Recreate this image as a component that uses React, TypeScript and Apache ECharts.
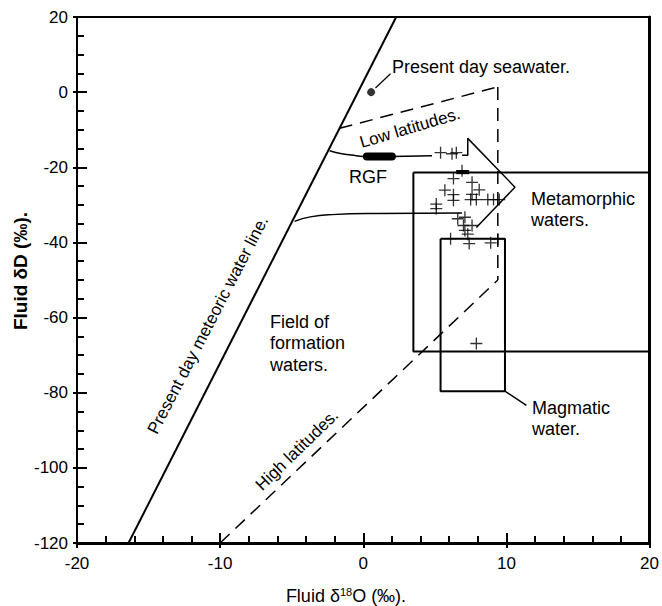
import React, { useEffect, useRef } from 'react';
import * as echarts from 'echarts';

// Axis ranges / ticks
const xRange = [-20, 20];
const yRange = [-120, 20];
const xTickStep = 10;
const yTickStep = 20;

// Reference lines (δ18O, δD)
const meteoricLine = [[-16.4, -120], [2.3, 20]];
const lowLatitudes = [[-1.65, -9.6], [9.4, 1.4]];
const latitudeBound = [[9.4, 1.4], [9.4, -50]];
const highLatitudes = [[-10, -120], [9.4, -50]];
const seawater = [[0.55, 0]];
const seawaterLeader = [[0.85, 1.1], [1.9, 4.9]];
const rgfCurve = [[-2.35, -15.6], [-1.5, -16.4], [-0.5, -16.9], [0.1, -17.1]];
const rgfBar = [[0.25, -17.1], [2.0, -17.1]];
const rgfTail = [[2.0, -17.1], [4.8, -16.9]];
const rgfBar2 = [[6.5, -21.3], [7.4, -21.3]];
const formationCurve = [[-4.8, -34.4], [-3.7, -33.2], [-2.2, -32.6], [1, -32.3], [6.9, -32.2]];
const metamorphicBox = [[3.5, -21.4], [20, -21.4], [20, -69], [3.5, -69], [3.5, -21.4]];
const metamorphicArrow = [[6.9, -16.8], [7.3, -16.8], [7.3, -12.3], [10.6, -25.3], [7.9, -36]];
const magmaticBox = [[5.4, -39], [9.9, -39], [9.9, -79.6], [5.4, -79.6], [5.4, -39]];
const magmaticLeader = [[9.9, -79.6], [11.4, -83.4]];

// Fluid inclusion samples
const sampleD18O = [5.4, 6.2, 6.5, 6.9, 6.3, 7.6, 5.7, 8.1, 6.3, 7.6, 6.3, 7.5, 7.9, 8.7, 9.1, 9.5, 5.1, 5.1, 6.6, 7.1, 7.0, 7.6, 7.1, 7.3, 6.1, 7.4, 8.9, 9.4, 7.9];
const sampleDD = [-16.1, -16.4, -16.1, -20.9, -23.0, -24.0, -26.1, -26.0, -27.3, -27.2, -28.8, -28.6, -28.6, -28.6, -28.6, -28.6, -29.8, -31.0, -33.7, -33.3, -35.5, -35.5, -36.8, -37.8, -39.0, -40.3, -40.1, -39.1, -66.9];

const FONT = '"Liberation Sans", Arial, sans-serif';

function lineSeries(data: number[][], opts: any = {}) {
  return {
    type: 'line',
    data,
    showSymbol: false,
    symbol: 'none',
    silent: true,
    smooth: opts.smooth || false,
    lineStyle: { color: '#000', width: opts.width || 1.5, type: opts.type || 'solid', cap: opts.cap || 'butt' },
    z: opts.z || 3,
  };
}

export default function App() {
  const ref = useRef<HTMLDivElement>(null);
  useEffect(() => {
    if (!ref.current) return;
    const chart = echarts.init(ref.current, null, { renderer: 'svg' });
    const samples = sampleD18O.map((x, i) => [x, sampleDD[i]]);
    const axisLabel = { color: '#000', fontFamily: FONT, fontSize: 17 };
    const tickStyle = { color: '#000', width: 2 };
    chart.setOption({
      animation: false,
      backgroundColor: '#fff',
      grid: { left: 77, right: 9, top: 17, bottom: 63, show: true, borderColor: '#000', borderWidth: 2, backgroundColor: 'transparent' },
      xAxis: [
        {
          type: 'value', min: xRange[0], max: xRange[1], interval: xTickStep, position: 'bottom',
          axisLine: { show: true, onZero: false, lineStyle: { color: '#000', width: 3 } },
          axisTick: { show: true, inside: true, length: 10, lineStyle: tickStyle },
          minorTick: { show: true, splitNumber: 5, length: 7, lineStyle: tickStyle },
          splitLine: { show: false }, minorSplitLine: { show: false },
          axisLabel: { ...axisLabel, margin: 12 },
        },
        {
          type: 'value', min: xRange[0], max: xRange[1], interval: xTickStep, position: 'bottom',
          axisLine: { show: false, onZero: false },
          axisTick: { show: true, inside: false, length: 5, lineStyle: tickStyle },
          splitLine: { show: false }, axisLabel: { show: false },
        },
      ],
      yAxis: [
        {
          type: 'value', min: yRange[0], max: yRange[1], interval: yTickStep, position: 'left',
          axisLine: { show: true, onZero: false, lineStyle: { color: '#000', width: 2 } },
          axisTick: { show: true, inside: true, length: 10, lineStyle: tickStyle },
          minorTick: { show: true, splitNumber: 4, length: 7, lineStyle: tickStyle },
          splitLine: { show: false }, minorSplitLine: { show: false },
          axisLabel: { ...axisLabel, margin: 9 },
        },
        {
          type: 'value', min: yRange[0], max: yRange[1], interval: yTickStep, position: 'left',
          axisLine: { show: false, onZero: false },
          axisTick: { show: true, inside: false, length: 4, lineStyle: tickStyle },
          splitLine: { show: false }, axisLabel: { show: false },
        },
        {
          type: 'value', min: yRange[0], max: yRange[1], position: 'right',
          axisLine: { show: true, onZero: false, lineStyle: { color: '#000', width: 3 } },
          axisTick: { show: false }, splitLine: { show: false }, axisLabel: { show: false },
        },
      ],
      series: [
        lineSeries(meteoricLine, { width: 2 }),
        lineSeries(lowLatitudes, { type: [13, 8] }),
        lineSeries(latitudeBound, { type: [13, 8] }),
        lineSeries(highLatitudes, { type: [13, 8] }),
        lineSeries(seawaterLeader, { width: 1.2 }),
        lineSeries(rgfCurve, { smooth: true }),
        lineSeries(rgfBar, { width: 8, cap: 'round', z: 4 }),
        lineSeries(rgfTail, { width: 1.5 }),
        lineSeries(rgfBar2, { width: 4 }),
        lineSeries(formationCurve, { smooth: true }),
        lineSeries(metamorphicBox, { width: 2 }),
        lineSeries(metamorphicArrow, { width: 1.5 }),
        lineSeries(magmaticBox, { width: 2 }),
        lineSeries(magmaticLeader, { width: 1.5 }),
        {
          type: 'scatter', data: seawater, symbol: 'circle', symbolSize: 8,
          itemStyle: { color: '#000' }, silent: true, z: 5,
        },
        {
          type: 'scatter', data: samples,
          symbol: 'path://M0,4.45H10V5.55H0Z M4.45,0H5.55V10H4.45Z', symbolSize: 12,
          itemStyle: { color: '#000' }, silent: true, z: 5,
        },
      ],
      graphic: [
        { type: 'text', x: 392, y: 67, style: { text: 'Present day seawater.', font: `18px ${FONT}`, fill: '#000', align: 'left', verticalAlign: 'middle' } },
        { type: 'text', x: 410, y: 128, rotation: 0.29, style: { text: 'Low latitudes.', font: `17px ${FONT}`, fill: '#000', align: 'center', verticalAlign: 'middle' } },
        { type: 'text', x: 368, y: 177, style: { text: 'RGF', font: `18px ${FONT}`, fill: '#000', align: 'center', verticalAlign: 'middle' } },
        { type: 'text', x: 531, y: 188.5, style: { text: 'Metamorphic\nwaters.', font: `18px ${FONT}`, lineHeight: 21, fill: '#000', align: 'left', verticalAlign: 'top' } },
        { type: 'text', x: 532, y: 397.5, style: { text: 'Magmatic\nwater.', font: `18px ${FONT}`, lineHeight: 21, fill: '#000', align: 'left', verticalAlign: 'top' } },
        { type: 'text', x: 270, y: 311, style: { text: 'Field of\nformation\nwaters.', font: `18px ${FONT}`, lineHeight: 21.5, fill: '#000', align: 'left', verticalAlign: 'top' } },
        { type: 'text', x: 208, y: 325, rotation: 1.093, style: { text: 'Present day meteoric water line.', font: `17px ${FONT}`, fill: '#000', align: 'center', verticalAlign: 'middle' } },
        { type: 'text', x: 297, y: 450, rotation: 0.77, style: { text: 'High latitudes.', font: `17px ${FONT}`, fill: '#000', align: 'center', verticalAlign: 'middle' } },
        { type: 'text', x: 20, y: 271, rotation: Math.PI / 2, style: { text: 'Fluid δD (‰).', font: `bold 19px ${FONT}`, fill: '#000', align: 'center', verticalAlign: 'middle' } },
        {
          type: 'text', x: 346, y: 596,
          style: {
            text: 'Fluid δ{sup|18}O (‰).', font: `18px ${FONT}`, fill: '#000', align: 'center', verticalAlign: 'middle',
            rich: { sup: { fontSize: 11, fontFamily: FONT, verticalAlign: 'top', lineHeight: 20, fill: '#000' } },
          },
        },
      ],
    });
    return () => chart.dispose();
  }, []);
  return <div ref={ref} style={{ position: 'fixed', left: 0, top: 0, width: 662, height: 606 }} />;
}
